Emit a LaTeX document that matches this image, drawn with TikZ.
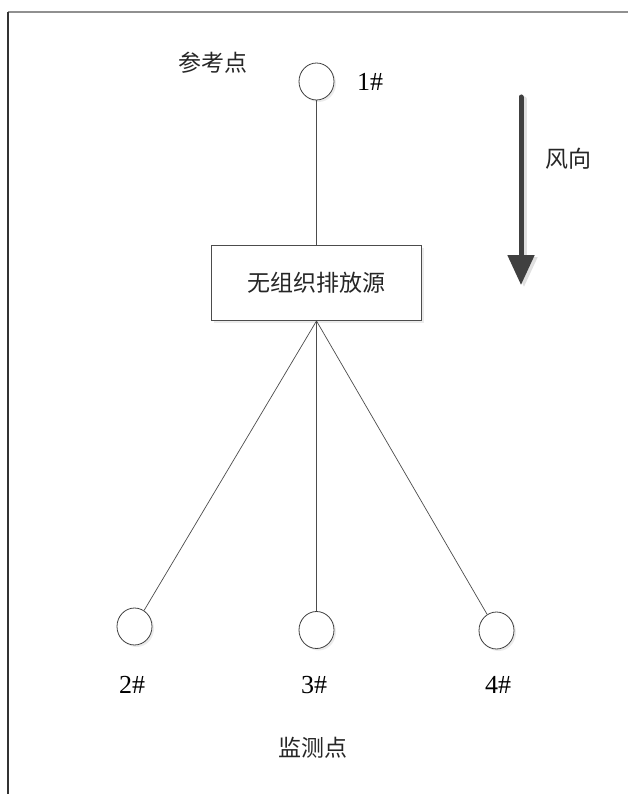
\documentclass[tikz,border=0pt]{standalone}
\usepackage{fontspec}
\setmainfont{Liberation Serif}
\newfontfamily\cjk{Noto Sans CJK SC}
\usetikzlibrary{arrows.meta,shapes.geometric,shadows}
\definecolor{arrowgray}{HTML}{404040}
\definecolor{framegray}{HTML}{909090}
\tikzset{
  pt/.style={ellipse,draw=black!75,line width=0.8pt,fill=white,minimum width=35pt,minimum height=37pt,inner sep=0pt,
    drop shadow={shadow xshift=2pt,shadow yshift=-2pt,fill=black!15}},
  srcbox/.style={draw=black!70,line width=0.9pt,fill=white,minimum width=210pt,minimum height=75pt,inner sep=0pt,
    drop shadow={shadow xshift=2pt,shadow yshift=-2pt,fill=black!15}},
  cn/.style={font=\cjk\fontsize{23}{26}\selectfont,text=black!85,inner sep=0pt},
  lab/.style={font=\fontsize{26}{28}\selectfont,text=black,inner sep=0pt},
  conn/.style={draw=black!70,line width=0.7pt}
}
\begin{document}
\begin{tikzpicture}[x=1pt,y=-1pt]
\useasboundingbox (0,0) rectangle (628,794);
\fill[white] (0,0) rectangle (628,794);
% frame
\draw[framegray,line width=1.3pt] (8,12) -- (628,12);
\draw[black!80,line width=1.2pt] (8,12) -- (8,794);
% nodes
\node[pt] (p1) at (316.5,81.5) {};
\node[srcbox] (src) at (316.5,283) {};
\node[cn] at (src) {无组织排放源};
\node[pt] (p2) at (134.5,626.5) {};
\node[pt] (p3) at (316.5,630) {};
\node[pt] (p4) at (496.5,630.5) {};
% connectors
\draw[conn] (p1.south) -- (src.north);
\draw[conn] (src.south) -- (p2);
\draw[conn] (src.south) -- (p3.north);
\draw[conn] (src.south) -- (p4);
% labels
\node[cn] (ref) at (213,63) {参考点};
\node[lab] (l1) at (370,82) {1\#};
\node[lab] (l2) at (132,685) {2\#};
\node[lab] (l3) at (314,685) {3\#};
\node[lab] (l4) at (498,685) {4\#};
\node[cn] (mon) at (313,748) {监测点};
\node[cn] (wind) at (568,159) {风向};
% wind arrow
\coordinate (wa) at (521,97);
\coordinate (wb) at (521,285);
\draw[black!12,line width=5pt,line cap=round,-{Triangle[width=26pt,length=30pt]}] ([xshift=3pt,yshift=-2pt]wa) -- ([xshift=3pt,yshift=-2pt]wb);
\draw[arrowgray,line width=5pt,line cap=round,-{Triangle[width=26pt,length=30pt]}] (wa) -- (wb);
\end{tikzpicture}
\end{document}
